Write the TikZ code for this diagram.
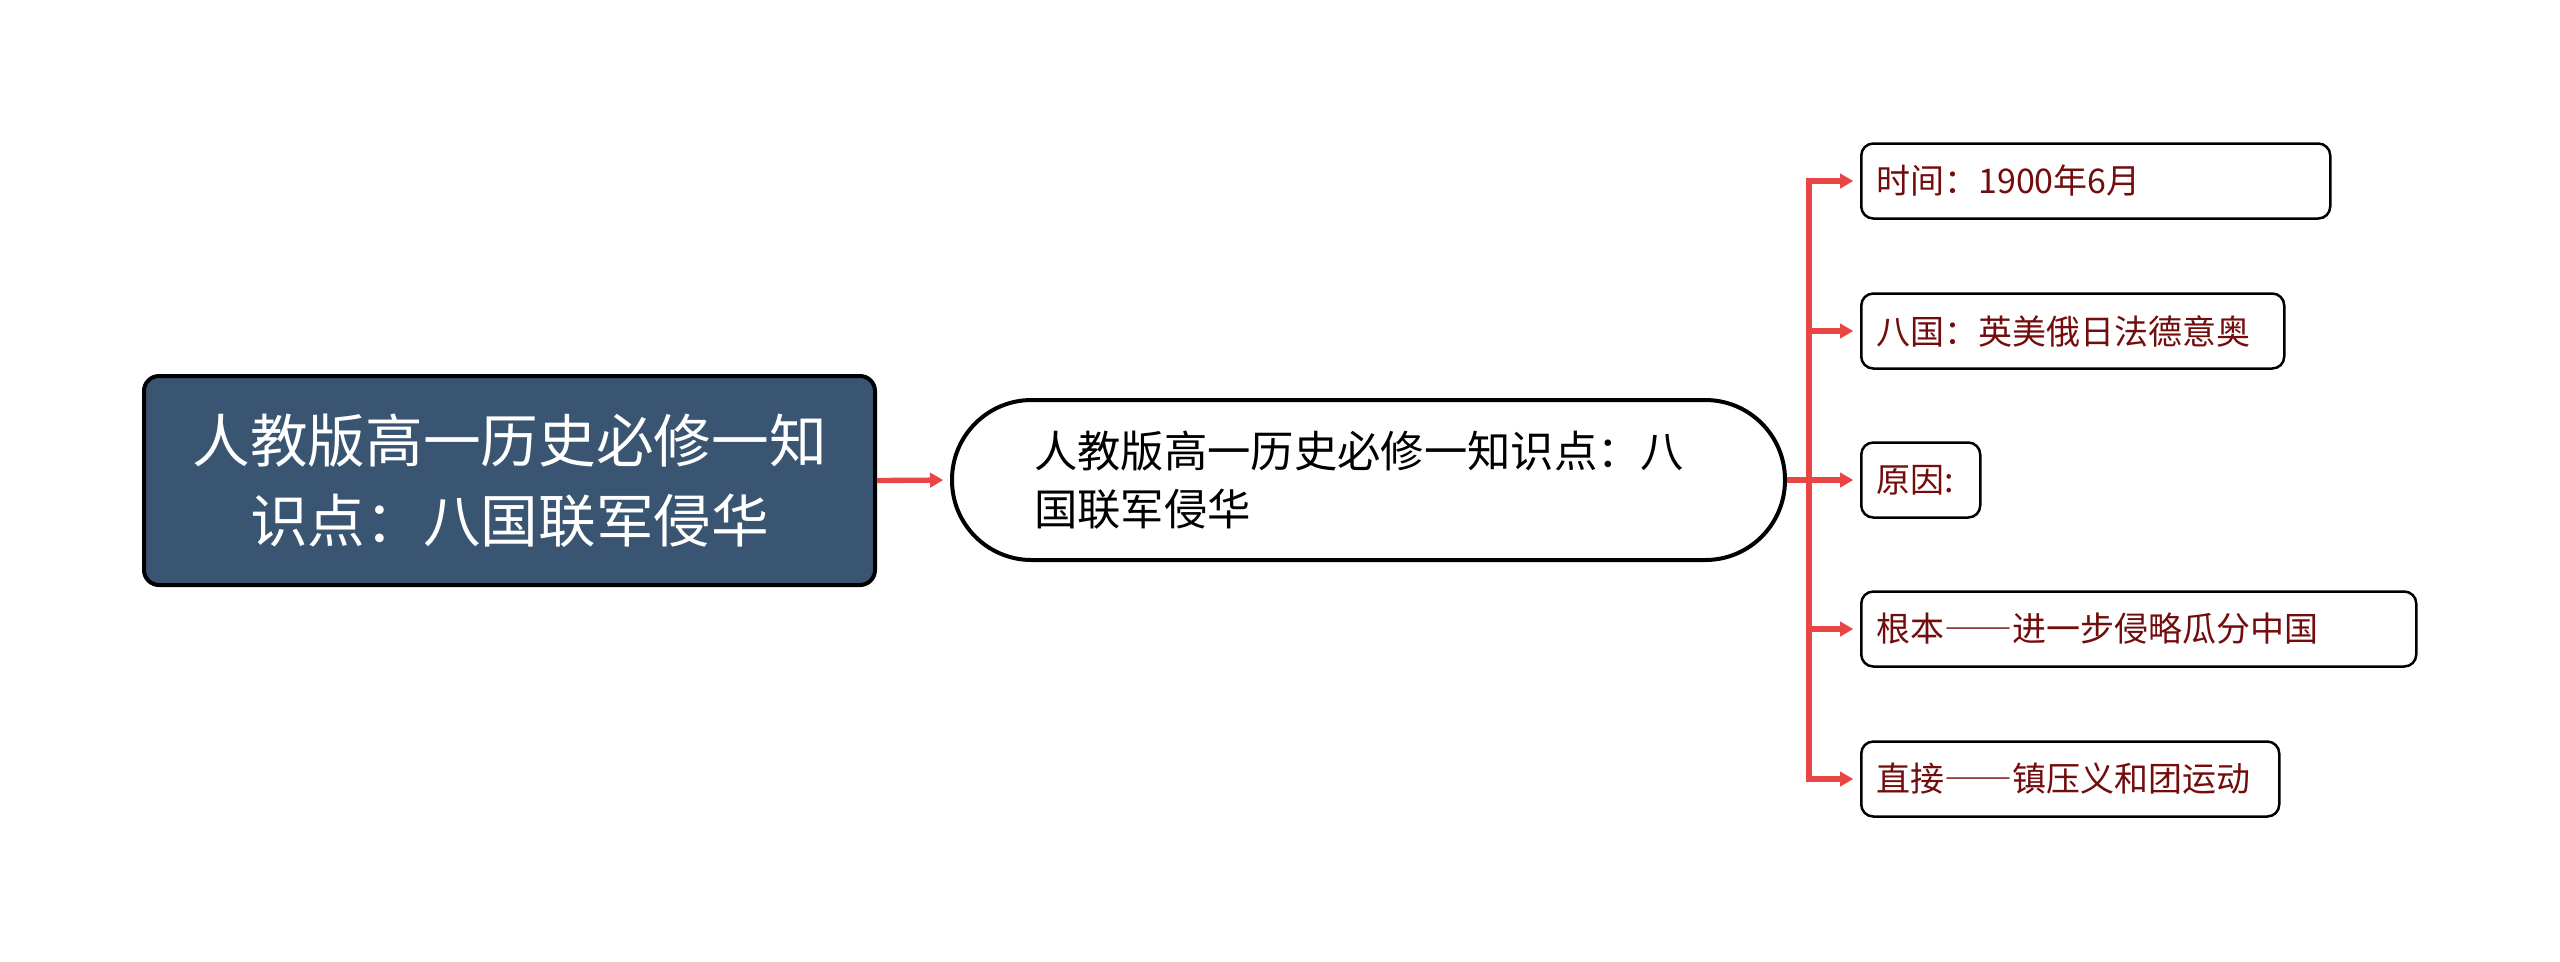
\documentclass[tikz,border=0pt]{standalone}
\usepackage{fontspec}
\newfontfamily\cjk{Noto Sans CJK SC}
\newfontfamily\cjkfw[RawFeature=+fwid]{Noto Sans CJK SC}
\usetikzlibrary{arrows.meta}
\definecolor{rootfill}{HTML}{3A5572}
\definecolor{linkred}{HTML}{EA4545}
\definecolor{leaftext}{HTML}{730C0C}
\newcommand{\fwdash}{{\cjkfw ——}}
\begin{document}
\begin{tikzpicture}[x=0.3pt,y=-0.3pt,
  rootbox/.style={draw=black,line width=1.2pt,fill=rootfill,rounded corners=4.5pt,
    text=white,align=center,minimum width=219.3pt,minimum height=62.7pt,
    font=\cjk\fontsize{17.3pt}{24pt}\selectfont},
  midbox/.style={draw=black,line width=1.2pt,fill=white,rounded corners=23.9pt,
    anchor=west,align=left,minimum width=249.9pt,minimum height=48pt,
    inner xsep=24.6pt,text width=200.7pt,
    font=\cjk\fontsize{13pt}{17.6pt}\selectfont},
  leafbox/.style={draw=black,line width=0.75pt,fill=white,rounded corners=3.6pt,
    anchor=west,align=left,minimum height=22.5pt,inner xsep=4.5pt,inner ysep=2pt,
    text=leaftext,font=\cjk\fontsize{10.2pt}{12pt}\selectfont},
  link/.style={draw=linkred,line width=1.6pt},
  linkarrow/.style={link,-{Triangle[length=4pt,width=4.3pt]},shorten >=2pt}
]
\useasboundingbox (0,0) rectangle (2560,961);
\node[rootbox] (root) at (509.5,480.5) {人教版高一历史必修一知\\识点：八国联军侵华};
\node[midbox] (mid) at (950,480) {人教版高一历史必修一知识点：八\\国联军侵华};
\node[leafbox,text width=131.7pt] (b1) at (1860,181) {时间：1900年6月};
\node[leafbox,text width=117.9pt] (b2) at (1860,331) {八国：英美俄日法德意奥};
\node[leafbox,text width=26.7pt] (b3) at (1860,480) {原因:};
\node[leafbox,text width=157.5pt] (b4) at (1860,629) {根本\fwdash 进一步侵略瓜分中国};
\node[leafbox,text width=116.4pt] (b5) at (1860,779) {直接\fwdash 镇压义和团运动};
\coordinate (j) at (1809,480);
\draw[linkarrow] (root.east) -- (mid.west);
\draw[link] (mid.east) -- (j);
\foreach \b in {b1,b2,b3,b4,b5}{
  \draw[linkarrow] (j) |- (\b.west);
}
\end{tikzpicture}
\end{document}
